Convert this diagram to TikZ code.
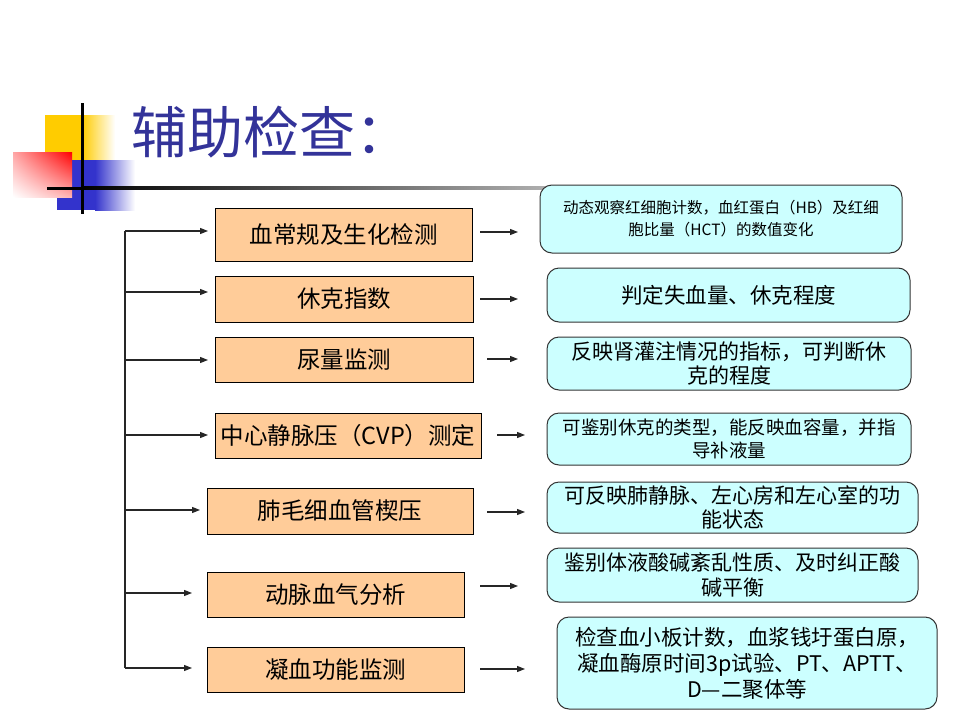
\documentclass[tikz,border=0pt]{standalone}
\usepackage{fontspec}
\setmainfont{Noto Sans CJK SC}
\usetikzlibrary{arrows.meta,shadings}
\definecolor{orangefill}{HTML}{FFCC99}
\definecolor{cyanfill}{HTML}{CCFFFF}
\definecolor{titleblue}{HTML}{333399}
\definecolor{decoyellow}{HTML}{FFCC00}
\definecolor{decoblue}{HTML}{3333CC}
\tikzset{
  lbox/.style={draw=black, line width=1pt, fill=orangefill, inner sep=0pt, align=center,
    font=\fontsize{23.5}{27}\selectfont},
  rbox/.style={draw=black!80, line width=1pt, fill=cyanfill, rounded corners=12pt, inner sep=0pt, align=center},
  arr/.style={line width=1.2pt, black!85, -{Triangle[length=8pt,width=6pt]}},
  trunk/.style={line width=1.2pt, black!85},
}
\begin{document}
\begin{tikzpicture}[x=1pt,y=-1pt]
\useasboundingbox (0,0) rectangle (960,720);
\fill[white] (0,0) rectangle (960,720);
% decoration
\fill[decoyellow] (45,115) rectangle (82,160);
\shade[left color=decoyellow, right color=white] (82,115) rectangle (115,160);
\fill[decoblue] (57,160) rectangle (95,210);
\shade[left color=decoblue, right color=white] (95,160) rectangle (135,210);
\shade[upper left=red!35, upper right=red, lower left=white, lower right=red!30] (13,152) rectangle (72,197);
\fill[black] (47,186.5) rectangle (82,189.5);
\shade[left color=black, right color=white] (82,186.5) rectangle (760,189.5);
\draw[line width=3pt, black] (82,103) -- (82,214);
% title
\node[anchor=west, text=titleblue, font=\fontsize{56}{60}\selectfont, inner sep=0pt] (title) at (131,132) {辅助检查：};
% left boxes
\node[lbox, minimum width=257pt, minimum height=53pt] (L1) at (343.5,234.5) {血常规及生化检测};
\node[lbox, minimum width=258pt, minimum height=46pt] (L2) at (344,299) {休克指数};
\node[lbox, minimum width=258pt, minimum height=45pt] (L3) at (344,359.5) {尿量监测};
\node[lbox, minimum width=266pt, minimum height=45pt] (L4) at (348,435.5) {中心静脉压（CVP）测定};
\node[lbox, minimum width=266pt, minimum height=46pt] (L5) at (340,511) {肺毛细血管楔压};
\node[lbox, minimum width=257pt, minimum height=45pt] (L6) at (335.5,594.5) {动脉血气分析};
\node[lbox, minimum width=257pt, minimum height=45pt] (L7) at (335.5,669.5) {凝血功能监测};
% right boxes
\node[rbox, minimum width=362pt, minimum height=68pt, font=\fontsize{15.5}{22}\selectfont] (R1) at (721,219) {动态观察红细胞计数，血红蛋白（HB）及红细\\胞比量（HCT）的数值变化};
\node[rbox, minimum width=363pt, minimum height=54pt, font=\fontsize{21.5}{24}\selectfont] (R2) at (728.5,295) {判定失血量、休克程度};
\node[rbox, minimum width=364pt, minimum height=53pt, font=\fontsize{21}{23.5}\selectfont] (R3) at (729,363.5) {反映肾灌注情况的指标，可判断休\\克的程度};
\node[rbox, minimum width=364pt, minimum height=52pt, font=\fontsize{18.5}{23}\selectfont] (R4) at (729,439) {可鉴别休克的类型，能反映血容量，并指\\导补液量};
\node[rbox, minimum width=371pt, minimum height=51pt, font=\fontsize{21}{24}\selectfont] (R5) at (732.5,507.5) {可反映肺静脉、左心房和左心室的功\\能状态};
\node[rbox, minimum width=371pt, minimum height=54pt, font=\fontsize{21}{25}\selectfont] (R6) at (732.5,575) {鉴别体液酸碱紊乱性质、及时纠正酸\\碱平衡};
\node[rbox, minimum width=380pt, minimum height=92pt, font=\fontsize{21.5}{26}\selectfont] (R7) at (747,663) {检查血小板计数，血浆钱圩蛋白原，\\凝血酶原时间3p试验、PT、APTT、\\D—二聚体等};
% trunk coordinates
\coordinate (t1) at (125,231);
\coordinate (t2) at (125,292);
\coordinate (t3) at (125,360);
\coordinate (t4) at (125,435);
\coordinate (t5) at (125,510);
\coordinate (t6) at (125,593);
\coordinate (t7) at (125,668);
\coordinate (a1) at (208,231);
\coordinate (a2) at (208,292);
\coordinate (a3) at (208,360);
\coordinate (a4) at (208,435);
\coordinate (a5) at (200,510);
\coordinate (a6) at (192,593);
\coordinate (a7) at (192,668);
\draw[trunk] (t1) -- (t7);
\foreach \i in {1,...,7} { \draw[arr] (t\i) -- (a\i); }
% right arrows
\coordinate (b1) at (480,232); \coordinate (c1) at (518,232);
\coordinate (b2) at (480,299); \coordinate (c2) at (518,299);
\coordinate (b3) at (487,359); \coordinate (c3) at (518,359);
\coordinate (b4) at (497,435); \coordinate (c4) at (525,435);
\coordinate (b5) at (487,512); \coordinate (c5) at (525,512);
\coordinate (b6) at (480,586); \coordinate (c6) at (518,586);
\coordinate (b7) at (480,669); \coordinate (c7) at (525,669);
\foreach \i in {1,...,7} { \draw[arr] (b\i) -- (c\i); }
\end{tikzpicture}
\end{document}
